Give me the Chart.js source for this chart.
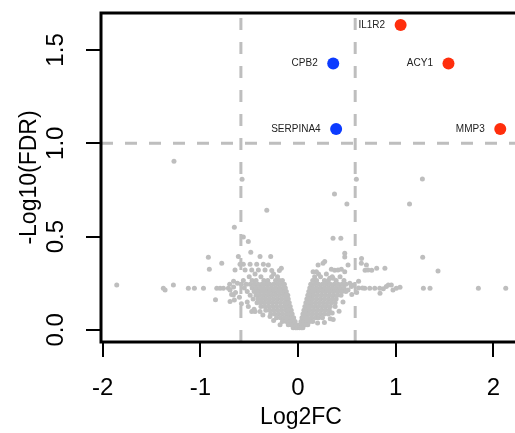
<!DOCTYPE html>
<html><head><meta charset="utf-8">
<script src="https://cdn.jsdelivr.net/npm/chart.js@4/dist/chart.umd.min.js"></script>
<style>
html,body{margin:0;padding:0;background:#fff;overflow:hidden;width:515px;height:433px}
#wrap{position:absolute;left:0;top:0;width:560px;height:433px}
</style>
</head><body><div id="wrap"><canvas id="c" width="560" height="433"></canvas></div>
<script>
// ---------- data ----------
const xTicks = [-2, -1, 0, 1, 2];
const yTicks = [0, 0.5, 1.0, 1.5];
const xRange = [-2.017, 2.528];
const yRange = [-0.065, 1.698];
const fcCut = 0.585;     // log2(1.5)
const fdrCut = 1.0;      // -log10(0.1)

const genes = ['IL1R2', 'ACY1', 'CPB2', 'SERPINA4', 'MMP3'];
const geneLog2FC = [1.05, 1.54, 0.36, 0.39, 2.07];
const geneNegLog10FDR = [1.634, 1.428, 1.428, 1.077, 1.077];
const geneGroup = ['up', 'up', 'down', 'down', 'up'];

// dense core of the volcano, rows of [ -log10 FDR, [log2FC ...] ]
const coreLeftRows = [
  [0.300, [-0.44,-0.25]],
  [0.285, [-0.50,-0.38,-0.27,-0.21]],
  [0.265, [-0.56,-0.47,-0.43,-0.35,-0.31,-0.23,-0.19,-0.16]],
  [0.245, [-0.58,-0.53,-0.49,-0.45,-0.41,-0.37,-0.33,-0.29,-0.25,-0.21,-0.17,-0.14]],
  [0.225, [-0.55,-0.47,-0.43,-0.39,-0.35,-0.31,-0.27,-0.23,-0.19,-0.15,-0.13]],
  [0.205, [-0.52,-0.45,-0.41,-0.37,-0.33,-0.29,-0.25,-0.21,-0.17,-0.14,-0.12]],
  [0.185, [-0.49,-0.43,-0.39,-0.35,-0.31,-0.27,-0.23,-0.19,-0.15,-0.12,-0.105]],
  [0.165, [-0.46,-0.41,-0.37,-0.33,-0.29,-0.25,-0.21,-0.17,-0.13,-0.10]],
  [0.145, [-0.42,-0.38,-0.34,-0.30,-0.26,-0.22,-0.18,-0.14,-0.11,-0.09]],
  [0.125, [-0.38,-0.34,-0.30,-0.26,-0.22,-0.18,-0.14,-0.11,-0.08]],
  [0.105, [-0.33,-0.29,-0.25,-0.21,-0.17,-0.13,-0.10,-0.07]],
  [0.085, [-0.28,-0.24,-0.20,-0.16,-0.12,-0.09,-0.06]],
  [0.065, [-0.22,-0.18,-0.14,-0.10,-0.07,-0.045]],
  [0.045, [-0.16,-0.12,-0.08,-0.05,-0.03]],
  [0.028, [-0.10,-0.07,-0.04,-0.02]],
  [0.012, [-0.05,-0.025,-0.01]]
];
const coreRightRows = [
  [0.300, [0.21,0.29]],
  [0.285, [0.17,0.23,0.35,0.43]],
  [0.265, [0.15,0.19,0.27,0.31,0.39,0.47]],
  [0.245, [0.13,0.17,0.21,0.25,0.29,0.33,0.37,0.41,0.45,0.49]],
  [0.225, [0.12,0.15,0.19,0.23,0.27,0.31,0.35,0.39,0.43,0.47]],
  [0.205, [0.11,0.14,0.17,0.21,0.25,0.29,0.33,0.37,0.41,0.45,0.49]],
  [0.185, [0.10,0.13,0.16,0.20,0.24,0.28,0.32,0.36,0.40,0.44]],
  [0.165, [0.09,0.12,0.15,0.19,0.23,0.27,0.31,0.35,0.39]],
  [0.145, [0.08,0.11,0.14,0.18,0.22,0.26,0.30,0.34,0.38]],
  [0.125, [0.07,0.10,0.13,0.17,0.21,0.25,0.29,0.33]],
  [0.105, [0.06,0.09,0.12,0.16,0.20,0.24,0.28,0.32]],
  [0.085, [0.05,0.08,0.11,0.15,0.19,0.23,0.27,0.31]],
  [0.065, [0.04,0.07,0.10,0.14,0.18,0.21,0.25]],
  [0.045, [0.03,0.06,0.09,0.12,0.15]],
  [0.028, [0.02,0.05,0.08,0.10]],
  [0.012, [0.015,0.035,0.05]]
];
// scattered non-significant genes, [log2FC, -log10 FDR]
const scatterGenes = [
  [-1.27,0.903],[-0.573,0.807],[0.597,0.807],[1.273,0.809],[0.373,0.728],[-0.32,0.641],
  [0.50,0.675],[1.141,0.675],[-0.652,0.55],[-0.56,0.497],[0.358,0.491],[0.438,0.491],
  [-0.509,0.473],[-0.484,0.416],[-0.918,0.389],[-0.611,0.393],[-0.389,0.393],[-0.28,0.393],
  [1.276,0.389],[0.478,0.39],[0.478,0.411],[0.65,0.382],[-0.781,0.357],[-0.908,0.325],[0.273,0.366],
  [1.433,0.316],[0.889,0.33],
  [-0.594,0.351],[-0.56,0.351],[-0.491,0.351],[-0.423,0.351],[-0.355,0.351],[-0.304,0.348],
  [0.205,0.348],[0.256,0.357],[0.512,0.348],[0.648,0.357],[0.70,0.348],
  [-0.645,0.321],[-0.542,0.321],[-0.474,0.321],[-0.406,0.321],[-0.338,0.321],[-0.269,0.318],
  [-0.191,0.318],[-0.171,0.33],[0.154,0.312],[0.188,0.312],[0.341,0.325],[0.375,0.32],
  [0.409,0.321],[0.443,0.325],[0.478,0.312],[0.686,0.32],[0.716,0.321],[0.754,0.32],[0.805,0.33],
  [0.324,0.277],[0.358,0.277],
  [-1.856,0.241],[-1.379,0.223],[-1.361,0.214],[-1.276,0.241],[-1.123,0.223],[-1.061,0.223],
  [-0.968,0.223],[-0.832,0.223],[-0.798,0.223],[-0.764,0.223],[-0.713,0.223],[-0.696,0.214],[-0.66,0.23],
  [0.512,0.214],[0.546,0.232],[0.62,0.225],[0.683,0.223],[0.734,0.223],[0.785,0.223],[0.836,0.223],
  [0.873,0.22],[0.904,0.232],[0.924,0.24],[0.955,0.241],[0.972,0.214],[1.006,0.223],[1.044,0.228],
  [1.283,0.223],[1.351,0.223],[1.846,0.223],[2.126,0.223],
  [-0.845,0.162],[-0.696,0.152],[-0.662,0.187],[-0.652,0.16],[-0.509,0.125],[-0.474,0.098],
  [-0.44,0.098],[-0.389,0.098],[-0.287,0.071],[-0.184,0.027],
  [0.839,0.196],[0.38,0.125],[0.35,0.09],[0.33,0.06],[0.2,0.037],
  [-0.70,0.245],[-0.66,0.26],[-0.62,0.25],[-0.64,0.2],[-0.60,0.175],[-0.68,0.19],[-0.58,0.14],
  [0.53,0.25],[0.57,0.24],[0.62,0.26],[0.55,0.19],[0.60,0.2],[0.66,0.225],
  [-0.45,0.11],[-0.36,0.08],[-0.25,0.05],[-0.52,0.15],
  [0.42,0.10],[0.36,0.055],[0.27,0.04],[0.46,0.15]
];

// ---------- build ----------
const grayPts = [];
coreLeftRows.concat(coreRightRows).forEach(([y, xs]) => xs.forEach(x => grayPts.push({x, y})));
scatterGenes.forEach(([x, y]) => grayPts.push({x, y}));
const genePts = genes.map((g, i) => ({x: geneLog2FC[i], y: geneNegLog10FDR[i]}));
const groupColor = {up: '#FF2E0C', down: '#0C3BFF'};

const FONT = '"Liberation Sans", Arial, Helvetica, sans-serif';
const GRAY = '#BEBEBE';

const decor = {
  id: 'decor',
  afterDatasetsDraw(chart) {
    const ctx = chart.ctx;
    const meta = chart.getDatasetMeta(0);
    ctx.save();
    ctx.font = '10px ' + FONT;
    ctx.fillStyle = '#222';
    ctx.textAlign = 'right';
    ctx.textBaseline = 'middle';
    meta.data.forEach((el, i) => ctx.fillText(genes[i], el.x - 15.5, el.y));
    ctx.restore();
  },
  afterDraw(chart) {
    const {ctx, chartArea: a} = chart;
    ctx.save();
    ctx.strokeStyle = '#000';
    ctx.lineWidth = 3;
    ctx.strokeRect(a.left, a.top, a.right - a.left, a.bottom - a.top);
    ctx.fillStyle = '#000';
    ctx.font = '23px ' + FONT;
    ctx.textAlign = 'center';
    ctx.textBaseline = 'alphabetic';
    ctx.fillText('Log2FC', 301, 424);
    ctx.restore();
  }
};

new Chart(document.getElementById('c'), {
  type: 'scatter',
  data: {
    datasets: [
      {label: 'significant', data: genePts,
       backgroundColor: geneGroup.map(g => groupColor[g]), borderWidth: 0,
       pointRadius: 6, order: 1},
      {label: 'FC low', data: [{x: -fcCut, y: yRange[0]}, {x: -fcCut, y: yRange[1]}], showLine: true,
       borderColor: GRAY, borderWidth: 3, borderDash: [12, 12], pointRadius: 0, order: 2},
      {label: 'FC high', data: [{x: fcCut, y: yRange[0]}, {x: fcCut, y: yRange[1]}], showLine: true,
       borderColor: GRAY, borderWidth: 3, borderDash: [12, 12], pointRadius: 0, order: 2},
      {label: 'FDR', data: [{x: xRange[0], y: fdrCut}, {x: xRange[1], y: fdrCut}], showLine: true,
       borderColor: GRAY, borderWidth: 3, borderDash: [12, 12], pointRadius: 0, order: 2},
      {label: 'other', data: grayPts, backgroundColor: GRAY, borderWidth: 0, pointRadius: 2.5, order: 3}
    ]
  },
  options: {
    responsive: false, animation: false, events: [],
    layout: {padding: {left: 0, top: 13, right: 15, bottom: 0}},
    plugins: {legend: {display: false}, tooltip: {enabled: false}},
    scales: {
      x: {
        type: 'linear', min: xRange[0], max: xRange[1],
        afterBuildTicks: s => { s.ticks = xTicks.map(v => ({value: v})); },
        afterFit: s => { s.height = 91; s.paddingLeft = 0; s.paddingRight = 0; },
        border: {display: false},
        grid: {display: true, drawOnChartArea: false, drawTicks: true, tickLength: 15, tickColor: '#000', lineWidth: 2},
        ticks: {color: '#000', font: {family: FONT, size: 24}, padding: 17, maxRotation: 0, minRotation: 0,
                callback: v => String(v)}
      },
      y: {
        type: 'linear', min: yRange[0], max: yRange[1],
        afterBuildTicks: s => { s.ticks = yTicks.map(v => ({value: v})); },
        afterFit: s => { s.width = 101; s.paddingTop = 0; s.paddingBottom = 0; },
        border: {display: false},
        grid: {display: true, drawOnChartArea: false, drawTicks: true, tickLength: 15, tickColor: '#000', lineWidth: 2},
        ticks: {color: '#000', font: {family: FONT, size: 24}, padding: 13, minRotation: 90, maxRotation: 90,
                crossAlign: 'center', callback: v => v.toFixed(1)},
        title: {display: true, text: '-Log10(FDR)', color: '#000', font: {family: FONT, size: 23},
                padding: {top: 16, bottom: 0}}
      }
    }
  },
  plugins: [decor]
});
</script></body></html>
